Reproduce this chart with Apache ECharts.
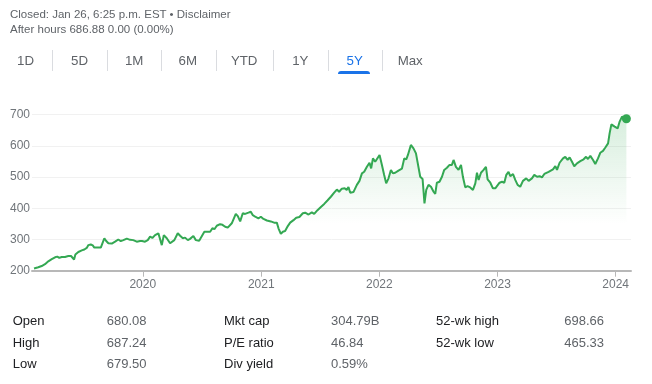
<!DOCTYPE html>
<html>
<head>
<meta charset="utf-8">
<script src="https://cdn.jsdelivr.net/npm/echarts@6/dist/echarts.min.js"></script>
<style>
html,body{margin:0;padding:0;background:#fff;}
body{width:652px;height:384px;position:relative;overflow:hidden;font-family:Arial,"Liberation Sans",sans-serif;}
#chart{position:absolute;left:0;top:0;width:652px;height:384px;}
.t{position:absolute;white-space:nowrap;}
.hdr{font-size:11.5px;line-height:14px;color:#5f6368;left:10px;}
.tab{font-size:13.3px;line-height:16px;color:#5f6368;width:50px;text-align:center;top:53.2px;}
.sep{position:absolute;top:50px;height:21px;width:1px;background:#dadce0;}
.lab{font-size:13px;line-height:16px;color:#202124;}
.val{font-size:13px;line-height:16px;color:#5f6368;}
</style>
</head>
<body>
<div id="chart"></div>
<div class="t hdr" style="top:6.5px">Closed: Jan 26, 6:25 p.m. EST • Disclaimer</div>
<div class="t hdr" style="top:21.5px">After hours 686.88 0.00 (0.00%)</div>
<div id="tabs"></div>
<div id="stats"></div>
<script>
// ---- data ----
const tabLabels = ['1D','5D','1M','6M','YTD','1Y','5Y','Max'];
const activeTab = '5Y';
const statLabels1 = ['Open','High','Low'];
const statValues1 = ['680.08','687.24','679.50'];
const statLabels2 = ['Mkt cap','P/E ratio','Div yield'];
const statValues2 = ['304.79B','46.84','0.59%'];
const statLabels3 = ['52-wk high','52-wk low'];
const statValues3 = ['698.66','465.33'];

const yTicks = [200,300,400,500,600,700];

// time of each close as decimal year
const years = [
2019.080,2019.116,2019.145,2019.173,2019.201,2019.230,2019.258,2019.277,2019.294,2019.314,
2019.342,2019.370,2019.393,2019.408,2019.419,2019.430,2019.455,2019.484,2019.506,2019.526,
2019.540,2019.560,2019.577,2019.590,2019.611,2019.645,2019.661,2019.675,2019.689,2019.709,
2019.738,2019.766,2019.793,2019.814,2019.836,2019.865,2019.893,2019.920,2019.949,2019.977,
2019.994,2020.019,2020.042,2020.062,2020.081,2020.104,2020.132,2020.146,2020.161,2020.178,
2020.203,2020.231,2020.245,2020.267,2020.296,2020.316,2020.339,2020.358,2020.381,2020.400,
2020.428,2020.449,2020.477,2020.493,2020.521,2020.542,2020.570,2020.589,2020.606,2020.626,
2020.654,2020.674,2020.697,2020.719,2020.753,2020.787,2020.804,2020.824,2020.846,2020.866,
2020.894,2020.914,2020.931,2020.951,2020.978,2020.999,2021.021,2021.050,2021.083,2021.111,
2021.134,2021.148,2021.168,2021.185,2021.204,2021.227,2021.247,2021.275,2021.298,2021.325,
2021.354,2021.374,2021.402,2021.430,2021.450,2021.478,2021.509,2021.535,2021.562,2021.591,
2021.619,2021.642,2021.661,2021.684,2021.708,2021.725,2021.740,2021.755,2021.782,2021.797,
2021.811,2021.833,2021.854,2021.873,2021.896,2021.918,2021.932,2021.947,2021.966,2021.981,
2022.003,2022.023,2022.042,2022.059,2022.079,2022.099,2022.116,2022.135,2022.163,2022.192,
2022.212,2022.229,2022.243,2022.268,2022.290,2022.311,2022.324,2022.347,2022.367,2022.383,
2022.398,2022.417,2022.438,2022.460,2022.474,2022.488,2022.510,2022.531,2022.550,2022.573,
2022.595,2022.615,2022.629,2022.649,2022.671,2022.692,2022.708,2022.728,2022.747,2022.770,
2022.793,2022.813,2022.827,2022.841,2022.861,2022.883,2022.903,2022.917,2022.940,2022.962,
2022.982,2022.996,2023.018,2023.039,2023.058,2023.075,2023.094,2023.109,2023.132,2023.151,
2023.171,2023.193,2023.216,2023.244,2023.264,2023.292,2023.312,2023.335,2023.357,2023.377,
2023.397,2023.433,2023.470,2023.490,2023.504,2023.526,2023.555,2023.574,2023.594,2023.611,
2023.631,2023.650,2023.673,2023.701,2023.729,2023.750,2023.766,2023.786,2023.809,2023.828,
2023.851,2023.870,2023.893,2023.913,2023.936,2023.949,2023.964,2023.978,2023.992,2024.017,
2024.034,2024.054,2024.074,2024.091
];
const prices = [
207,211,215,221,230,237,243,245,241,244,
244,247,247,243,236,252,260,265,268,273,
282,284,281,274,274,274,290,304,296,288,
287,293,300,295,298,303,299,298,293,295,
295,293,298,309,305,314,320,322,282,314,
304,288,285,298,320,312,304,306,298,302,
311,298,296,298,325,325,325,336,333,344,
349,347,341,338,352,382,375,358,384,382,
386,389,378,373,368,373,366,361,358,354,
354,336,318,325,327,343,354,362,370,372,
384,386,380,387,382,394,405,414,425,437,
450,460,453,463,464,459,468,450,452,453,
475,488,512,517,533,546,528,560,549,555,
571,539,507,480,496,523,512,514,521,527,
560,557,571,603,592,576,549,501,494,416,
459,475,469,453,446,482,485,501,523,530,
539,539,555,533,523,539,501,467,471,467,
459,480,514,491,514,523,533,493,482,464,
464,459,482,485,482,507,517,503,510,491,
475,469,488,496,488,496,507,501,503,499,
510,517,525,535,523,546,560,565,555,563,
549,535,544,551,557,565,558,568,555,542,
560,578,584,595,608,640,669,674,662,656,
678,694,688,686.88
];
const xRange = [2019.063, 2024.130];

// ---- build ----
const YEAR_MS = 365.25 * 86400000;
const toTime = y => Date.UTC(2020,0,1) + (y - 2020) * YEAR_MS;
const seriesData = years.map((y,i) => [toTime(y), prices[i]]);
const last = seriesData[seriesData.length - 1];

// tabs
const tabCenters = [25.5,79.5,134.2,187.8,244.2,300.3,354.7,410.2];
const sepX = [52.3,106.7,161,215.7,273.3,327.7,381.7];
let th = '';
tabLabels.forEach((l,i) => {
  const act = l === activeTab;
  th += `<div class="t tab" style="left:${tabCenters[i]-25}px;${act?'color:#1a73e8;':''}">${l}</div>`;
  if (act) th += `<div style="position:absolute;left:${tabCenters[i]-16.4}px;top:71px;width:31.7px;height:3.3px;background:#1a73e8;border-radius:3px 3px 0 0;"></div>`;
});
sepX.forEach(x => th += `<div class="sep" style="left:${x}px"></div>`);
document.getElementById('tabs').innerHTML = th;

// stats
const rowTops = [313.4, 335, 356.3];
const cols = [[12.7,106.7,statLabels1,statValues1],[224,331,statLabels2,statValues2],[436,564.3,statLabels3,statValues3]];
let sh = '';
cols.forEach(([lx,vx,labs,vals]) => {
  labs.forEach((l,i) => {
    sh += `<div class="t lab" style="left:${lx}px;top:${rowTops[i]}px">${l}</div>`;
    sh += `<div class="t val" style="left:${vx}px;top:${rowTops[i]}px">${vals[i]}</div>`;
  });
});
document.getElementById('stats').innerHTML = sh;

const chart = echarts.init(document.getElementById('chart'), null, {renderer:'canvas'});
chart.setOption({
  animation: false,
  useUTC: true,
  grid: {left: 32, right: 21, top: 114.7, bottom: 113.3, containLabel: false},
  xAxis: {
    type: 'time',
    min: toTime(xRange[0]),
    max: toTime(xRange[1]),
    splitNumber: 5,
    axisLine: {lineStyle: {color: '#b8b8b8', width: 2}},
    axisTick: {show: true, length: 6, lineStyle: {color: '#b8b8b8', width: 1}},
    axisLabel: {
      color: '#70757a', fontSize: 12, fontFamily: 'Arial', margin: 8,
      showMinLabel: false, showMaxLabel: false,
      formatter: v => String(new Date(v).getUTCFullYear())
    },
    splitLine: {show: false}
  },
  yAxis: {
    type: 'value',
    min: yTicks[0], max: yTicks[yTicks.length-1], interval: 100,
    axisLine: {show: false},
    axisTick: {show: false},
    axisLabel: {color: '#70757a', fontSize: 12, fontFamily: 'Arial', align: 'left', margin: 22},
    splitLine: {lineStyle: {color: '#f1f1f1', width: 1}}
  },
  series: [
    {
      type: 'line',
      data: seriesData,
      showSymbol: false,
      symbol: 'none',
      lineStyle: {color: '#34a853', width: 2},
      areaStyle: {
        color: new echarts.graphic.LinearGradient(0,0,0,1,[
          {offset: 0, color: 'rgba(52,168,83,0.28)'},
          {offset: 0.7, color: 'rgba(52,168,83,0)'},
          {offset: 1, color: 'rgba(52,168,83,0)'}
        ])
      },
      z: 3
    },
    {
      type: 'scatter',
      data: [last],
      symbol: 'circle',
      symbolSize: 9,
      itemStyle: {color: '#34a853', opacity: 1},
      z: 4
    }
  ]
});
</script>
</body>
</html>
